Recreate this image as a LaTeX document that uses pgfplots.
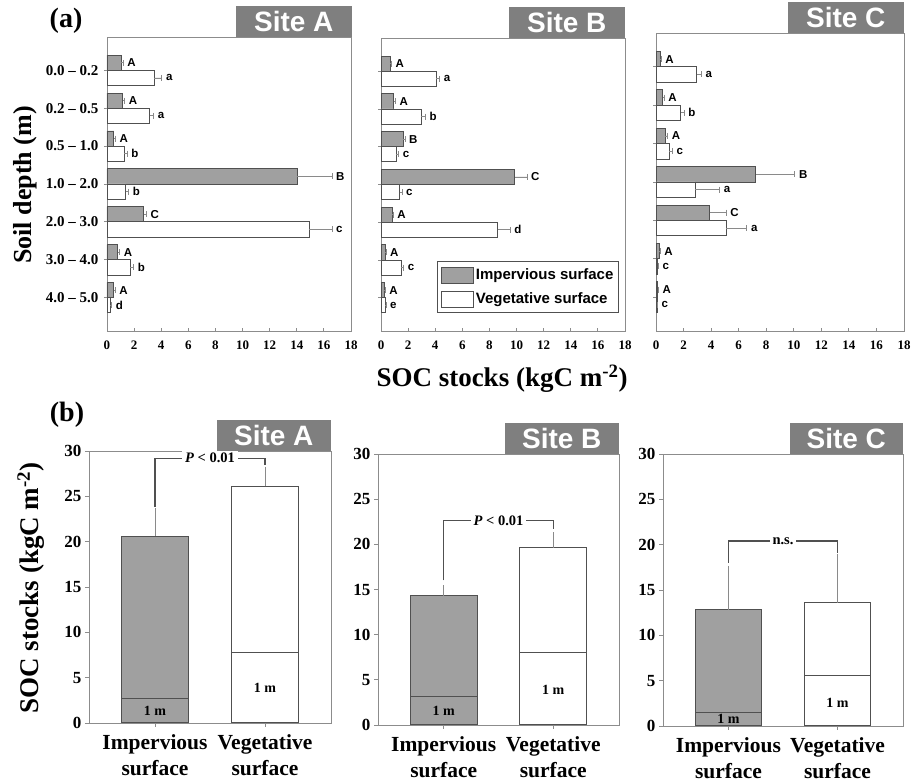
\documentclass[border=0pt]{standalone}
\usepackage{fontspec}
\setmainfont{Liberation Serif}
\newfontfamily\sansb{Liberation Sans}
\usepackage{pgfplots}
\usepackage{pgfplotstable}
\pgfplotsset{compat=1.18}

\definecolor{impgray}{HTML}{A0A0A0}
\definecolor{bardark}{HTML}{505050}
\definecolor{errgray}{HTML}{8A8A8A}
\definecolor{banner}{HTML}{7F7F7F}
\definecolor{frame}{HTML}{8C8C8C}

% SOC stocks by depth layer: k = layer index (0 = 0.0-0.2 m ... 6 = 4.0-5.0 m)
% imp/veg = mean, ie/ve = standard error, il/vl = letters of the multiple comparison
\pgfplotstableread{
k imp  ie   il veg   ve   vl
0 1.03 0.17 A  3.49  0.56 a
1 1.15 0.15 A  3.15  0.30 a
2 0.50 0.12 A  1.28  0.20 b
3 14.05 2.55 B 1.38  0.22 b
4 2.70 0.20 C  14.90 1.70 c
5 0.79 0.14 A  1.72  0.25 b
6 0.49 0.11 A  0.25  0.09 d
}\depthA
\pgfplotstableread{
k imp  ie   il veg   ve   vl
0 0.69 0.08 A  4.08  0.25 a
1 0.93 0.13 A  2.95  0.32 b
2 1.62 0.15 B  1.13  0.17 c
3 9.87 0.90 C  1.38  0.17 c
4 0.81 0.08 A  8.60  0.93 d
5 0.29 0.08 A  1.50  0.17 c
6 0.25 0.05 A  0.30  0.07 e
}\depthB
\pgfplotstableread{
k imp  ie   il veg   ve   vl
0 0.29 0.09 A  2.95  0.35 a
1 0.48 0.12 A  1.80  0.24 b
2 0.67 0.17 A  0.96  0.24 c
3 7.25 2.83 B  2.83  1.80 a
4 3.89 1.20 C  5.09  1.50 a
5 0.24 0.07 A  0.12  0.05 c
6 0.12 0.05 A  0.07  0.03 c
}\depthC

\newcommand{\ser}[1]{\bfseries\fontsize{#1}{#1}\selectfont}
\newcommand{\sans}[1]{\sansb\bfseries\fontsize{#1}{#1}\selectfont}

\tikzset{
  site/.style={fill=banner, text=white, font=\sans{28}, minimum width=116pt, minimum height=31pt,
    inner sep=0pt, anchor=south east},
}

\pgfplotsset{
  topaxis/.style={
    scale only axis, clip=false,
    xmin=0, xmax=18, xtick={0,2,...,18},
    ymin=-0.88, ymax=6.88, ytick={0,...,6},
    axis line style={frame, line width=0.9pt},
    tick style={frame, line width=0.8pt},
    major tick length=3pt, tick align=inside,
    xtick pos=bottom, ytick pos=left,
    y tick style={xshift=-3pt},
    /pgf/number format/assume math mode=true,
    xticklabel style={font=\ser{13}, yshift=-6pt},
    yticklabel style={font=\ser{15}, xshift=-5pt},
  },
  botaxis/.style={
    scale only axis, clip=false,
    xmin=-0.6, xmax=1.6, xtick={0,1},
    ymin=0, ymax=30, ytick={0,5,...,30},
    axis line style={frame, line width=0.9pt},
    tick style={frame, line width=0.8pt},
    major tick length=4pt, tick align=outside,
    xtick pos=bottom, ytick pos=left,
    /pgf/number format/assume math mode=true,
    xticklabels={{Impervious\\surface},{Vegetative\\surface}},
    xticklabel style={align=center, font=\bfseries\fontsize{21.5}{26}\selectfont, yshift=-4pt},
    yticklabel style={font=\ser{17}},
  },
  hbar/.style={xbar, bar width=0.4, bar shift=0pt, draw=bardark, line width=0.8pt, forget plot,
    error bars/x dir=plus, error bars/x explicit,
    error bars/error bar style={errgray, line width=0.8pt},
    error bars/error mark options={errgray, line width=0.8pt, mark size=3pt, rotate=90}},
  letters/.style={draw=none, mark=none, forget plot, nodes near coords, point meta=explicit symbolic,
    every node near coord/.append style={anchor=west, font=\sans{11.5}, inner sep=0pt, xshift=4pt, text=black}},
  vbar/.style={ybar, bar width=0.61, bar shift=0pt, draw=bardark, line width=1pt, forget plot,
    error bars/y dir=plus, error bars/y explicit,
    error bars/error bar style={errgray, line width=1pt},
    error bars/error mark options={errgray, line width=1pt, mark size=3.5pt}},
}

% one depth-profile panel: #1 = table
\newcommand{\depthpanel}[1]{%
  \addplot[hbar, fill=impgray] table[x=imp, y expr=6.2-\thisrow{k}, x error=ie] {#1};
  \addplot[hbar, fill=white] table[x=veg, y expr=5.8-\thisrow{k}, x error=ve] {#1};
  \addplot[letters] table[x expr=\thisrow{imp}+\thisrow{ie}, y expr=6.2-\thisrow{k}, meta=il] {#1};
  \addplot[letters] table[x expr=\thisrow{veg}+\thisrow{ve}, y expr=5.8-\thisrow{k}, meta=vl] {#1};
}

\begin{document}
\begin{tikzpicture}
\useasboundingbox (0pt,0pt) rectangle (916pt,783pt);

% ---------- (a) depth profiles ----------
\begin{axis}[topaxis, at={(107pt,452pt)}, anchor=south west, width=244pt, height=294pt,
  yticklabels={4.0 – 5.0,3.0 – 4.0,2.0 – 3.0,1.0 – 2.0,0.5 – 1.0,0.2 – 0.5,0.0 – 0.2}]
  \depthpanel{\depthA}
  \node[site] at (rel axis cs:1.004,1) {Site A};
\end{axis}

\begin{axis}[topaxis, at={(381pt,452pt)}, anchor=south west, width=244pt, height=293pt,
  yticklabels={},
  legend style={at={(rel axis cs:0.975,0.061)}, anchor=south east, draw=bardark, line width=1pt,
    font=\sans{15}, inner xsep=3pt, inner ysep=5pt, row sep=7pt, cells={anchor=west}}]
  \depthpanel{\depthB}
  \addlegendimage{legend image code/.code={\draw[fill=impgray,draw=bardark,line width=0.9pt] (0pt,-8pt) rectangle (32pt,8pt);}}
  \addlegendentry{Impervious surface}
  \addlegendimage{legend image code/.code={\draw[fill=white,draw=bardark,line width=0.9pt] (0pt,-8pt) rectangle (32pt,8pt);}}
  \addlegendentry{Vegetative surface}
  \node[site] at (rel axis cs:1,1) {Site B};
\end{axis}

\begin{axis}[topaxis, at={(656pt,452pt)}, anchor=south west, width=248pt, height=298pt,
  yticklabels={}]
  \depthpanel{\depthC}
  \node[site] at (rel axis cs:1,1) {Site C};
\end{axis}

\node[font=\ser{28}] at (66pt,762pt) {(a)};
\node[font=\ser{26}, rotate=90] at (25pt,598pt) {Soil depth (m)};
\node[font=\ser{27}] at (502pt,404pt) {SOC stocks (kgC m\textsuperscript{-2})};

% ---------- (b) total stocks to 5 m, with the upper 1 m marked ----------
\begin{axis}[botaxis, at={(89pt,60pt)}, anchor=south west, width=242pt, height=272pt]
  \addplot[vbar, fill=impgray] coordinates {(0,20.6) +- (0,2.7)};
  \addplot[vbar, fill=impgray] coordinates {(0,2.7)};
  \addplot[vbar, fill=white] coordinates {(1,26.1) +- (0,1.8)};
  \addplot[vbar, fill=white] coordinates {(1,7.8)};
  \addplot[bardark, line width=1.2pt, mark=none, forget plot] coordinates {(0,23.85) (0,29.2) (1,29.2) (1,28.5)};
  \node[fill=white, inner sep=3pt, font=\ser{14.5}] at (axis cs:0.5,29.2) {\textit{P} < 0.01};
  \node[font=\ser{14}] at (axis cs:0,1.35) {1 m};
  \node[font=\ser{14}] at (axis cs:1,3.9) {1 m};
  \node[site, minimum width=114pt] at (rel axis cs:1,1) {Site A};
\end{axis}

\begin{axis}[botaxis, at={(378pt,58pt)}, anchor=south west, width=241pt, height=271pt]
  \addplot[vbar, fill=impgray] coordinates {(0,14.3) +- (0,0.76)};
  \addplot[vbar, fill=impgray] coordinates {(0,3.14)};
  \addplot[vbar, fill=white] coordinates {(1,19.6) +- (0,1.36)};
  \addplot[vbar, fill=white] coordinates {(1,8.0)};
  \addplot[bardark, line width=1.2pt, mark=none, forget plot] coordinates {(0,16.0) (0,22.6) (1,22.6) (1,21.7)};
  \node[fill=white, inner sep=3pt, font=\ser{14.5}] at (axis cs:0.5,22.6) {\textit{P} < 0.01};
  \node[font=\ser{14}] at (axis cs:0,1.57) {1 m};
  \node[font=\ser{14}] at (axis cs:1,3.9) {1 m};
  \node[site, minimum width=114pt] at (rel axis cs:1,1) {Site B};
\end{axis}

\begin{axis}[botaxis, at={(663pt,57pt)}, anchor=south west, width=240pt, height=272pt]
  \addplot[vbar, fill=impgray] coordinates {(0,12.8) +- (0,4.5)};
  \addplot[vbar, fill=impgray] coordinates {(0,1.5)};
  \addplot[vbar, fill=white] coordinates {(1,13.6) +- (0,5.0)};
  \addplot[vbar, fill=white] coordinates {(1,5.6)};
  \addplot[bardark, line width=1.2pt, mark=none, forget plot] coordinates {(0,18.0) (0,20.4) (1,20.4) (1,19.1)};
  \node[fill=white, inner sep=3pt, font=\ser{14.5}] at (axis cs:0.5,20.4) {n.s.};
  \node[font=\ser{14}] at (axis cs:0,0.75) {1 m};
  \node[font=\ser{14}] at (axis cs:1,2.6) {1 m};
  \node[site, minimum width=113pt] at (rel axis cs:1,1) {Site C};
\end{axis}

\node[font=\ser{28}] at (67pt,368pt) {(b)};
\node[font=\ser{27}, rotate=90] at (31pt,195pt) {SOC stocks (kgC m\textsuperscript{-2})};
\end{tikzpicture}
\end{document}
